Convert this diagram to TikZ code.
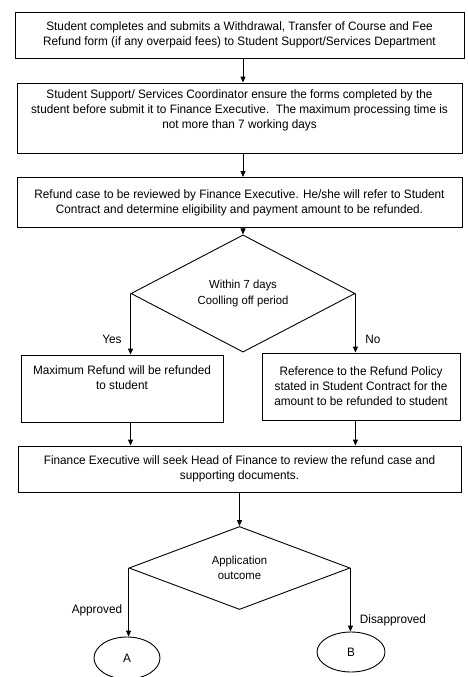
\documentclass[tikz,border=0pt]{standalone}
\usepackage{fontspec}
\setmainfont{Liberation Sans}[FakeStretch=0.965]
\usetikzlibrary{arrows.meta,shapes.geometric}
\newcommand\ftx{\fontsize{12.2}{15}\selectfont}
\newcommand\fdi{\fontsize{11.7}{15.5}\selectfont}
\newcommand\toptxt[4]{\parbox[c][#1][t]{#2}{\ftx\centering\vspace*{#3}#4\par}}
\tikzset{
  box/.style={draw=black, line width=0.9pt, inner sep=0pt, align=center, font=\ftx},
  decision/.style={draw=black, line width=0.9pt, diamond, inner sep=0pt, align=center, font=\fdi},
  terminal/.style={draw=black, line width=0.9pt, ellipse, inner sep=0pt, font=\ftx},
  arr/.style={line width=0.9pt, -{Triangle[length=6pt,width=5pt]}},
  lbl/.style={font=\ftx, inner sep=0pt}
}
\begin{document}
\begin{tikzpicture}[x=1pt,y=-1pt]
\useasboundingbox (0,0) rectangle (467,677);
\fill[white] (0,0) rectangle (467,677);

\node[box, minimum width=449pt, minimum height=46pt] (b1) at (239.5,35)
  {Student completes and submits a Withdrawal, Transfer of Course and Fee\\
   Refund form (if any overpaid fees) to Student Support/Services Department};

\node[box] (b2) at (239.5,118)
  {\toptxt{70pt}{445pt}{6.5pt}{Student Support/ Services Coordinator ensure the forms completed by the\\
   student before submit it to Finance Executive.\ \ The maximum processing time is\\
   not more than 7 working days}};

\node[box, minimum width=445pt, minimum height=50pt] (b3) at (239.5,202.5)
  {Refund case to be reviewed by Finance Executive. He/she will refer to Student\\
   Contract and determine eligibility and payment amount to be refunded.};

\node[decision, minimum width=224pt, minimum height=90pt] (d1) at (243,293.5)
  {Within 7 days\\Coolling off period};

\node[box] (bl) at (122,388.5)
  {\toptxt{67pt}{202pt}{11pt}{Maximum Refund will be refunded\\to student}};

\node[box, minimum width=198pt, minimum height=67pt] (br) at (361,386.5)
  {Reference to the Refund Policy\\stated in Student Contract for the\\amount to be refunded to student};

\node[box, minimum width=443pt, minimum height=46pt] (b5) at (239.5,469)
  {Finance Executive will seek Head of Finance to review the refund case and\\
   supporting documents.};

\node[decision, minimum width=221pt, minimum height=83pt] (d2) at (239.5,568)
  {Application\\outcome};

\node[terminal, minimum width=66pt, minimum height=42pt] (ta) at (127,658) {A};
\node[terminal, minimum width=68pt, minimum height=40pt] (tb) at (351,652) {B};

\draw[arr] (b1.south -| d1.north) -- (b2.north -| d1.north);
\draw[arr] (b2.south -| d1.north) -- (b3.north -| d1.north);
\draw[arr] (b3.south -| d1.north) -- (d1.north);
\draw[arr] (d1.west) -- (d1.west |- bl.north);
\draw[arr] (d1.east) -- (d1.east |- br.north);
\draw[arr] (bl.south -| d1.west) -- (b5.north -| d1.west);
\draw[arr] (br.south -| d1.east) -- (b5.north -| d1.east);
\draw[arr] (b5.south -| d2.north) -- (d2.north);
\draw[arr] (d2.west) -- (d2.west |- ta.north);
\draw[arr] (d2.east) -- (d2.east |- tb.north);

\node[lbl] (yes) at (112,339) {Yes};
\node[lbl] (no) at (373,339) {No};
\node[lbl] (app) at (97,610) {Approved};
\node[lbl] (dis) at (393,620) {Disapproved};
\end{tikzpicture}
\end{document}
